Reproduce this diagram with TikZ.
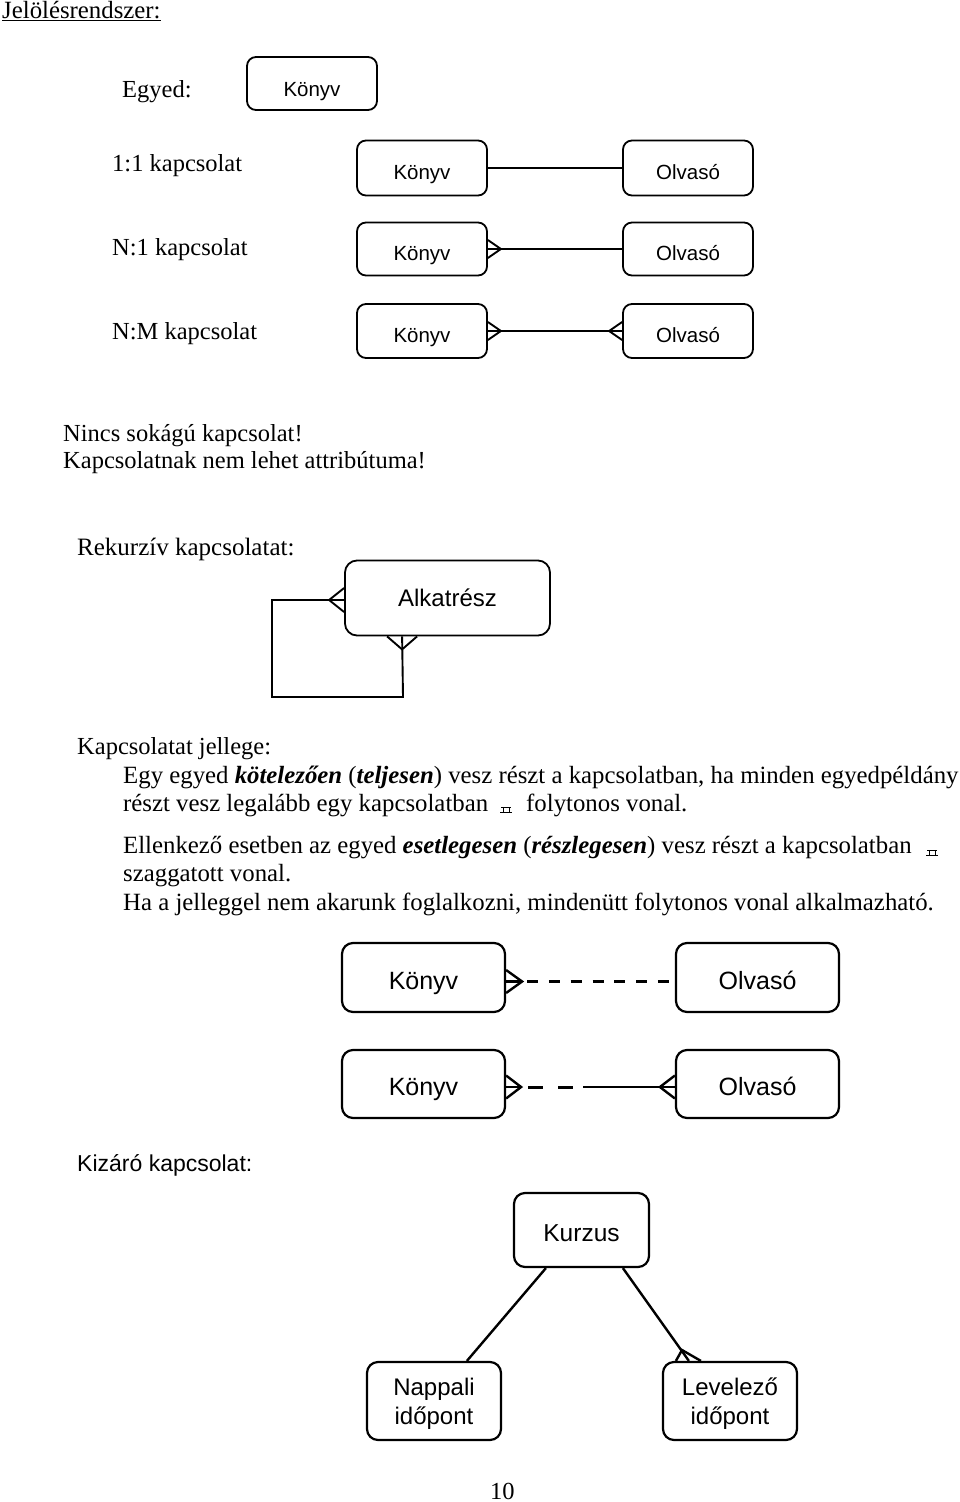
\documentclass[tikz,border=0pt]{standalone}
\usepackage{fontspec}
\setmainfont{Liberation Serif}
\newfontfamily\sansf{Liberation Sans}
\usetikzlibrary{calc}
\begin{document}
\begin{tikzpicture}[x=1pt,y=-1pt,
  ent/.style={draw, rounded corners=9pt, line width=1.8pt, inner sep=0pt, align=center},
  topbox/.style={ent, minimum width=130, minimum height=53, text height=22pt, text depth=0pt, font=\sansf\fontsize{20.5}{24}\selectfont},
  bigbox/.style={ent, line width=2.2pt, rounded corners=11pt, minimum width=163, minimum height=67, text height=23pt, text depth=0pt, font=\sansf\fontsize{25}{29}\selectfont},
  lowbox/.style={ent, line width=2.2pt, rounded corners=11pt, minimum width=134, minimum height=78, font=\sansf\fontsize{24}{29}\selectfont},
  txt/.style={anchor=base west, inner sep=0pt, font=\fontsize{24.5}{28}\selectfont},
  jtxt/.style={txt, font=\fontsize{24.8}{28}\selectfont},
  conn/.style={line width=1.9pt},
  bconn/.style={line width=2.4pt},
  dashl/.style={line width=3pt, dash pattern=on 11pt off 10.8pt, dash phase=16.8pt},
  dashs/.style={line width=3pt, dash pattern=on 15pt off 15pt on 15pt off 18pt, dash phase=56pt},
  sym/.style={line width=0.8pt}]
\useasboundingbox (0,0) rectangle (960,1502);

% header
\node[txt, font=\fontsize{24.8}{28}\selectfont] (title) at (2,18) {\underline{Jelölésrendszer:}};
\node[txt] (lEgyed) at (122,97) {Egyed:};
\node[topbox, text height=26pt] (e0) at (312,83.5) {Könyv};

% 1:1
\node[txt] (l11) at (112,171) {1:1 kapcsolat};
\node[topbox, minimum height=55] (k1) at (422,168) {Könyv};
\node[topbox, minimum height=55] (o1) at (688,168) {Olvasó};
\draw[conn] (k1) -- (o1);

% N:1
\node[txt] (ln1) at (112,255) {N:1 kapcsolat};
\node[topbox] (k2) at (422,249) {Könyv};
\node[topbox] (o2) at (688,249) {Olvasó};
\draw[conn] (k2.east) -- (o2.west);
\draw[conn] ([yshift=9pt]k2.east) -- ([xshift=13pt]k2.east) -- ([yshift=-9pt]k2.east);

% N:M
\node[txt] (lnm) at (112,339) {N:M kapcsolat};
\node[topbox, minimum height=54] (k3) at (422,331) {Könyv};
\node[topbox, minimum height=54] (o3) at (688,331) {Olvasó};
\draw[conn] (k3.east) -- (o3.west);
\draw[conn] ([yshift=9pt]k3.east) -- ([xshift=13pt]k3.east) -- ([yshift=-9pt]k3.east);
\draw[conn] ([yshift=9pt]o3.west) -- ([xshift=-13pt]o3.west) -- ([yshift=-9pt]o3.west);

\node[txt] (n1) at (63,441) {Nincs sokágú kapcsolat!};
\node[txt] (n2) at (63,468) {Kapcsolatnak nem lehet attribútuma!};

% recursive
\node[txt, font=\fontsize{25}{28}\selectfont] (lrek) at (77,555) {Rekurzív kapcsolatat:};
\node[ent, rounded corners=12pt, minimum width=205, minimum height=75, font=\sansf\fontsize{24}{28}\selectfont] (alk) at (447.5,598) {Alkatrész};
\coordinate (alkw) at ($(alk.west)+(0,2)$);
\coordinate (c1) at (272,600);
\coordinate (c2) at (272,697);
\coordinate (c3) at (403,697);
\coordinate (alkb) at ($(alk.south west)+(58,0)$);
\draw[conn] (alkw) -- (c1) -- (c2) -- (c3) -- (alkb);
\draw[conn] ($(alkw)+(0,-12)$) -- ($(alkw)+(-15,0)$) -- ($(alkw)+(0,12)$);
\draw[conn] ($(alkb)+(-15,0)$) -- ($(alkb)+(0,13)$) -- ($(alkb)+(15,0)$);

% explanation text
\node[txt] (j0) at (77,754) {Kapcsolatat jellege:};
\node[jtxt] (j1) at (123,783) {Egy egyed \textbf{\textit{kötelezően}} (\textbf{\textit{teljesen}}) vesz részt a kapcsolatban, ha minden egyedpéldány};
\node[jtxt] (j2) at (123,811) {részt vesz legalább egy kapcsolatban};
\draw[sym] (501,807) -- (511,807) (503,807) -- (503,812) (509,807) -- (509,812) (500,812) -- (512,812);
\node[jtxt] (j2b) at (526,811) {folytonos vonal.};
\node[jtxt] (j3) at (123,853) {Ellenkező esetben az egyed \textbf{\textit{esetlegesen}} (\textbf{\textit{részlegesen}}) vesz részt a kapcsolatban};
\draw[sym] (927,850) -- (937,850) (929,850) -- (929,855) (935,850) -- (935,855) (926,855) -- (938,855);
\node[jtxt] (j4) at (123,881) {szaggatott vonal.};
\node[jtxt] (j5) at (123,910) {Ha a jelleggel nem akarunk foglalkozni, mindenütt folytonos vonal alkalmazható.};

% bottom ER 1
\node[bigbox, minimum height=69] (bk1) at (423.5,977.5) {Könyv};
\node[bigbox, minimum height=69] (bo1) at (757.5,977.5) {Olvasó};
\coordinate (bk1e) at ($(bk1.east)+(0,4)$);
\coordinate (bo1w) at ($(bo1.west)+(0,4)$);
\coordinate (ap1) at ($(bk1e)+(16,0)$);
\draw[bconn] ($(bk1e)+(0,-11.5)$) -- (ap1) -- ($(bk1e)+(0,11.5)$);
\draw[bconn] (bk1e) -- (ap1);
\draw[dashl] (ap1) -- (bo1w);

% bottom ER 2
\node[bigbox, minimum height=68] (bk2) at (423.5,1084) {Könyv};
\node[bigbox, minimum height=68] (bo2) at (757.5,1084) {Olvasó};
\coordinate (bk2e) at ($(bk2.east)+(0,3)$);
\coordinate (bo2w) at ($(bo2.west)+(0,3)$);
\coordinate (ap2) at ($(bk2e)+(15,0)$);
\coordinate (ap3) at ($(bo2w)+(-15,0)$);
\coordinate (mid2) at (583,1087);
\draw[bconn] ($(bk2e)+(0,-11.5)$) -- (ap2) -- ($(bk2e)+(0,11.5)$);
\draw[bconn] (bk2e) -- (ap2);
\draw[dashs] (ap2) -- (mid2);
\draw[bconn] (mid2) -- (bo2w);
\draw[bconn] ($(bo2w)+(0,-11.5)$) -- (ap3) -- ($(bo2w)+(0,11.5)$);

% exclusive
\node[anchor=base west, inner sep=0pt, font=\sansf\fontsize{23}{27}\selectfont] (lkiz) at (77,1171) {Kizáró kapcsolat:};
\node[ent, line width=2.2pt, rounded corners=11pt, minimum width=135, minimum height=74, text height=22pt, text depth=0pt, font=\sansf\fontsize{24.5}{29}\selectfont] (kurz) at (581.5,1230) {Kurzus};
\node[lowbox] (napp) at (434,1401) {\raisebox{-9pt}[0pt][0pt]{\begin{tabular}{@{}c@{}}Nappali\\időpont\end{tabular}}};
\node[lowbox] (lev) at (730,1401) {\raisebox{-9pt}[0pt][0pt]{\begin{tabular}{@{}c@{}}Levelező\\időpont\end{tabular}}};
\coordinate (ks1) at ($(kurz.south west)+(33,0)$);
\coordinate (ks2) at ($(kurz.south west)+(110,0)$);
\coordinate (nt) at ($(napp.north west)+(101,0)$);
\coordinate (lt) at ($(lev.north west)+(27,0)$);
\coordinate (lap) at (682,1350);
\draw[bconn] (ks1) -- (nt);
\draw[bconn] (ks2) -- (lt);
\draw[bconn] ($(lev.north west)+(14,0)$) -- (lap) -- ($(lev.north west)+(39,0)$);

\node[txt] (pg) at (490,1499) {10};
\end{tikzpicture}
\end{document}
